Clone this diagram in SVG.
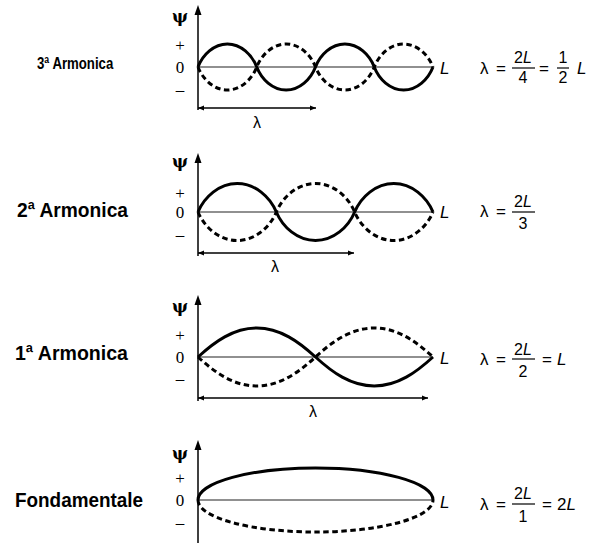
<svg xmlns="http://www.w3.org/2000/svg" width="590" height="545" viewBox="0 0 590 545">
<defs>
<marker id="ah" viewBox="0 0 10 10" refX="10" refY="5" markerWidth="6" markerHeight="6" markerUnits="userSpaceOnUse" orient="auto-start-reverse">
<path d="M0,1 L10,5 L0,9 Z" fill="#000"/>
</marker>
</defs>
<style>
.lbl{font-family:"Liberation Sans",Arial,sans-serif;font-weight:bold;fill:#000}
.ax{stroke:#000;stroke-width:1.5;fill:none}
.zero{stroke:#222;stroke-width:1.2;fill:none}
.sol{stroke:#000;stroke-width:3;fill:none}
.dsh{stroke:#000;stroke-width:3;fill:none;stroke-dasharray:5.5 3.5}
.dim{stroke:#000;stroke-width:1.3;fill:none}
.ser{font-family:"Liberation Serif","Times New Roman",serif;font-size:17px;fill:#000;text-anchor:middle}
.psi{font-family:"DejaVu Serif","Liberation Serif",serif;font-size:17px;font-weight:bold;fill:#000;text-anchor:middle}
.m{font-family:"Liberation Sans",Arial,sans-serif;font-size:17px;fill:#000}
.mc{font-family:"Liberation Sans",Arial,sans-serif;font-size:16px;fill:#000;text-anchor:middle}
.it{font-style:italic}
.bar{stroke:#000;stroke-width:1.2}
</style>
<rect width="590" height="545" fill="#fff"/>

<!-- Panel 1: 3a Armonica -->
<g id="panel3">
<text class="lbl" transform="translate(37,68.5) scale(0.8,1)" x="0" y="0" font-size="16.5">3ª Armonica</text>
<line class="zero" x1="198" y1="67" x2="433" y2="67"/>
<line class="ax" x1="198" y1="14" x2="198" y2="110"/>
<path d="M198,5 L194.5,15 L201.5,15 Z" fill="#000"/>
<text class="psi" x="180" y="22">ψ</text>
<text class="ser" x="180" y="51">+</text>
<text class="ser" x="180" y="73">0</text>
<text class="ser" x="180" y="95">–</text>
<path class="sol" d="M198,67 C202.7,54.81 213.86,44 227.375,44 C240.89,44 252.05,54.81 256.75,67 C261.45,79.19 272.61,90 286.125,90 C299.64,90 310.8,79.19 315.5,67 C320.2,54.81 331.36,44 344.875,44 C358.39,44 369.55,54.81 374.25,67 C378.95,79.19 390.11,90 403.625,90 C417.14,90 428.3,79.19 433,67"/>
<path class="dsh" d="M198,67 C202.7,79.19 213.86,90 227.375,90 C240.89,90 252.05,79.19 256.75,67 C261.45,54.81 272.61,44 286.125,44 C299.64,44 310.8,54.81 315.5,67 C320.2,79.19 331.36,90 344.875,90 C358.39,90 369.55,79.19 374.25,67 C378.95,54.81 390.11,44 403.625,44 C417.14,44 428.3,54.81 433,67"/>
<line class="dim" x1="198" y1="108" x2="316" y2="108" marker-start="url(#ah)" marker-end="url(#ah)"/>
<text class="mc" x="257" y="128" font-size="17">λ</text>
<text class="m it" x="440" y="74">L</text>
<text class="m" x="480" y="74">λ</text>
<text class="m" x="496" y="74">=</text>
<text class="mc" x="523" y="63">2<tspan class="it">L</tspan></text>
<line class="bar" x1="512" y1="68" x2="535" y2="68"/>
<text class="mc" x="523" y="83">4</text>
<text class="m" x="539" y="74">=</text>
<text class="mc" x="563" y="63">1</text>
<line class="bar" x1="557" y1="68" x2="569" y2="68"/>
<text class="mc" x="563" y="83">2</text>
<text class="m it" x="577" y="74">L</text>
</g>

<!-- Panel 2: 2a Armonica -->
<g id="panel2">
<text class="lbl" x="17" y="217" font-size="21" textLength="111" lengthAdjust="spacingAndGlyphs">2ª Armonica</text>
<line class="zero" x1="198" y1="212" x2="433" y2="212"/>
<line class="ax" x1="198" y1="162" x2="198" y2="256"/>
<path d="M198,153 L194.5,163 L201.5,163 Z" fill="#000"/>
<text class="psi" x="180" y="167">ψ</text>
<text class="ser" x="180" y="199">+</text>
<text class="ser" x="180" y="218">0</text>
<text class="ser" x="180" y="240">–</text>
<path class="sol" d="M198,212 C204.27,196.9 219.15,183.5 237.17,183.5 C255.19,183.5 270.06,196.9 276.33,212 C282.6,227.1 297.48,240.5 315.5,240.5 C333.52,240.5 348.4,227.1 354.67,212 C360.94,196.9 375.82,183.5 393.83,183.5 C411.85,183.5 426.73,196.9 433,212"/>
<path class="dsh" d="M198,212 C204.27,227.1 219.15,240.5 237.17,240.5 C255.19,240.5 270.06,227.1 276.33,212 C282.6,196.9 297.48,183.5 315.5,183.5 C333.52,183.5 348.4,196.9 354.67,212 C360.94,227.1 375.82,240.5 393.83,240.5 C411.85,240.5 426.73,227.1 433,212"/>
<line class="dim" x1="198" y1="253" x2="354" y2="253" marker-start="url(#ah)" marker-end="url(#ah)"/>
<text class="mc" x="275" y="272" font-size="17">λ</text>
<text class="m it" x="440" y="218">L</text>
<text class="m" x="480" y="217">λ</text>
<text class="m" x="496" y="217">=</text>
<text class="mc" x="523" y="207">2<tspan class="it">L</tspan></text>
<line class="bar" x1="512" y1="212" x2="535" y2="212"/>
<text class="mc" x="523" y="229">3</text>
</g>

<!-- Panel 3: 1a Armonica -->
<g id="panel1">
<text class="lbl" x="15" y="360" font-size="21" textLength="113" lengthAdjust="spacingAndGlyphs">1ª Armonica</text>
<line class="zero" x1="198" y1="357" x2="433" y2="357"/>
<line class="ax" x1="198" y1="304" x2="198" y2="401"/>
<path d="M198,295 L194.5,305 L201.5,305 Z" fill="#000"/>
<text class="psi" x="180" y="312">ψ</text>
<text class="ser" x="180" y="341">+</text>
<text class="ser" x="180" y="363">0</text>
<text class="ser" x="180" y="384">–</text>
<path class="sol" d="M198,357 C214.45,341.92 233.25,328 256.75,328 C280.25,328 299.05,341.92 315.5,357 C331.95,372.08 350.75,386 374.25,386 C397.75,386 416.55,372.08 433,357"/>
<path class="dsh" d="M198,357 C214.45,372.08 233.25,386 256.75,386 C280.25,386 299.05,372.08 315.5,357 C331.95,341.92 350.75,328 374.25,328 C397.75,328 416.55,341.92 433,357"/>
<line class="dim" x1="198" y1="398" x2="428" y2="398" marker-start="url(#ah)" marker-end="url(#ah)"/>
<text class="mc" x="313" y="417" font-size="17">λ</text>
<text class="m it" x="440" y="364">L</text>
<text class="m" x="480" y="365">λ</text>
<text class="m" x="496" y="365">=</text>
<text class="mc" x="523" y="355">2<tspan class="it">L</tspan></text>
<line class="bar" x1="512" y1="359" x2="535" y2="359"/>
<text class="mc" x="523" y="377">2</text>
<text class="m" x="542" y="365">=</text>
<text class="m it" x="557" y="365">L</text>
</g>

<!-- Panel 4: Fondamentale -->
<g id="fondamentale">
<text class="lbl" x="15" y="507" font-size="21" textLength="128" lengthAdjust="spacingAndGlyphs">Fondamentale</text>
<line class="zero" x1="198" y1="500" x2="433" y2="500"/>
<line class="ax" x1="198" y1="449" x2="198" y2="543"/>
<path d="M198,440 L194.5,450 L201.5,450 Z" fill="#000"/>
<text class="psi" x="180" y="459">ψ</text>
<text class="ser" x="180" y="484">+</text>
<text class="ser" x="180" y="506">0</text>
<text class="ser" x="180" y="528">–</text>
<path class="sol" d="M198,500 A117.5,32 0 0 1 433,500"/>
<path class="dsh" d="M198,500 A117.5,32 0 0 0 433,500"/>
<text class="m it" x="440" y="508">L</text>
<text class="m" x="480" y="510">λ</text>
<text class="m" x="496" y="510">=</text>
<text class="mc" x="523" y="499">2<tspan class="it">L</tspan></text>
<line class="bar" x1="512" y1="504" x2="535" y2="504"/>
<text class="mc" x="523" y="522">1</text>
<text class="m" x="542" y="510">=</text>
<text class="m" x="557" y="510">2<tspan class="it">L</tspan></text>
</g>
</svg>
